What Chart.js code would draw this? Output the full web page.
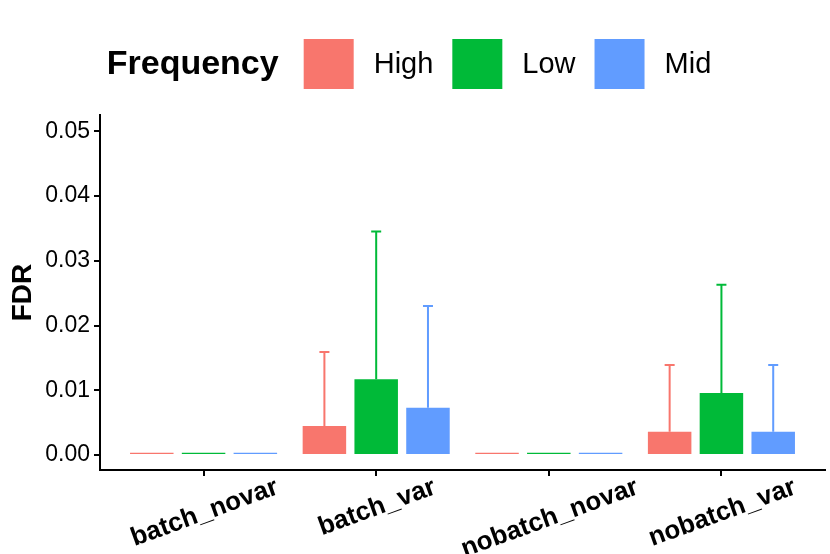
<!DOCTYPE html>
<html>
<head>
<meta charset="utf-8">
<script src="https://cdn.jsdelivr.net/npm/chart.js@4"></script>
<style>
  html, body { margin: 0; padding: 0; background: #fff; }
  #wrap { width: 830px; height: 554px; }
</style>
</head>
<body>
<div id="wrap"><canvas id="chart"></canvas></div>
<script>
// data
const categories = ['batch_novar', 'batch_var', 'nobatch_novar', 'nobatch_var'];
const highFdr = [0.00035, 0.0045, 0.00035, 0.0036];
const lowFdr = [0.00035, 0.0117, 0.00035, 0.0096];
const midFdr = [0.00035, 0.0073, 0.00035, 0.0036];
// upper end of the error bars (null = none visible)
const highUpper = [null, 0.0159, null, 0.0139];
const lowUpper = [null, 0.0345, null, 0.0263];
const midUpper = [null, 0.0230, null, 0.0139];
const yTicks = [0, 0.01, 0.02, 0.03, 0.04, 0.05];
const legendTitle = 'Frequency';

const FONT = "'Liberation Sans', Arial, sans-serif";

const toPoints = vals => vals.map((v, i) => ({ x: i + 1, y: v }));

// error bars drawn on top of the bars through the chart scales
const errorBars = {
  id: 'errorBars',
  afterDatasetsDraw(chart) {
    const ctx = chart.ctx;
    const y = chart.scales.y;
    chart.data.datasets.forEach((ds, di) => {
      const meta = chart.getDatasetMeta(di);
      ctx.save();
      ctx.strokeStyle = ds.backgroundColor;
      ctx.lineWidth = 2;
      meta.data.forEach((bar, i) => {
        const up = ds.upper[i];
        if (up == null) return;
        const top = y.getPixelForValue(up);
        ctx.beginPath();
        ctx.moveTo(bar.x, bar.y);
        ctx.lineTo(bar.x, top);
        ctx.moveTo(bar.x - 5, top);
        ctx.lineTo(bar.x + 5, top);
        ctx.stroke();
      });
      ctx.restore();
    });
  }
};

// rotated, centred category labels (ggplot style)
const xLabels = {
  id: 'xLabels',
  afterDraw(chart) {
    const ctx = chart.ctx;
    const x = chart.scales.x;
    const ang = 20 * Math.PI / 180;
    ctx.save();
    ctx.font = `bold 26px ${FONT}`;
    ctx.fillStyle = '#000';
    ctx.textAlign = 'center';
    ctx.textBaseline = 'middle';
    categories.forEach((c, i) => {
      const px = x.getPixelForValue(i + 1);
      const w = ctx.measureText(c).width;
      const bbh = w * Math.sin(ang) + 18 * Math.cos(ang);
      const cy = chart.chartArea.bottom + 8 + bbh / 2;
      ctx.save();
      ctx.translate(px + 1, cy);
      ctx.rotate(-ang);
      ctx.fillText(c, 0, 0);
      ctx.restore();
    });
    ctx.restore();
  }
};

// legend in one row: bold title followed by the keys
const inlineLegend = {
  id: 'inlineLegend',
  afterDraw(chart) {
    const ctx = chart.ctx;
    const key = 50, cy = 64;
    ctx.save();
    ctx.textBaseline = 'middle';
    ctx.font = `bold 34px ${FONT}`;
    const titleW = ctx.measureText(legendTitle).width;
    ctx.font = `29px ${FONT}`;
    const items = chart.data.datasets.map(ds => ({
      label: ds.label, color: ds.backgroundColor, w: ctx.measureText(ds.label).width
    }));
    let total = titleW + 25;
    items.forEach((it, i) => { total += key + 20 + it.w + (i < items.length - 1 ? 19 : 0); });
    let xPos = (chart.width - total) / 2 - 6;
    ctx.fillStyle = '#000';
    ctx.font = `bold 34px ${FONT}`;
    ctx.fillText(legendTitle, xPos, cy + 1);
    xPos += titleW + 25;
    ctx.font = `29px ${FONT}`;
    items.forEach(it => {
      ctx.fillStyle = it.color;
      ctx.fillRect(xPos, cy - key / 2, key, key);
      xPos += key + 20;
      ctx.fillStyle = '#000';
      ctx.fillText(it.label, xPos, cy + 1);
      xPos += it.w + 19;
    });
    ctx.restore();
  }
};

const barOpts = { categoryPercentage: 0.9, barPercentage: 0.84, borderWidth: 0 };

new Chart(document.getElementById('chart'), {
  type: 'bar',
  data: {
    datasets: [
      { label: 'High', data: toPoints(highFdr), upper: highUpper, backgroundColor: '#F8766D', ...barOpts },
      { label: 'Low', data: toPoints(lowFdr), upper: lowUpper, backgroundColor: '#00BA38', ...barOpts },
      { label: 'Mid', data: toPoints(midFdr), upper: midUpper, backgroundColor: '#619CFF', ...barOpts },
    ],
  },
  options: {
    responsive: true,
    maintainAspectRatio: false,
    animation: false,
    layout: { padding: { top: 115, right: 5, left: 0, bottom: 0 } },
    plugins: {
      legend: { display: false },
      tooltip: { enabled: false },
    },
    scales: {
      x: {
        type: 'linear',
        min: 0.4,
        max: 4.6,
        offset: false,
        afterBuildTicks: axis => { axis.ticks = categories.map((c, i) => ({ value: i + 1 })); },
        afterFit: axis => { axis.height = 84; },
        ticks: { display: false },
        grid: { drawOnChartArea: false, drawTicks: true, tickLength: 6, color: '#000', lineWidth: 2, offset: false },
        border: { display: true, color: '#000', width: 2 },
      },
      y: {
        min: -0.0023,
        max: 0.0525,
        afterBuildTicks: axis => { axis.ticks = yTicks.map(v => ({ value: v })); },
        afterFit: axis => { axis.width = 100; },
        ticks: {
          callback: v => v.toFixed(2),
          color: '#000',
          padding: 4,
          font: { family: FONT, size: 23 },
        },
        grid: { drawOnChartArea: false, drawTicks: true, tickLength: 6, color: '#000', lineWidth: 2 },
        border: { display: true, color: '#000', width: 2 },
        title: {
          display: true,
          text: 'FDR',
          color: '#000',
          padding: { top: 6, bottom: 0 },
          font: { family: FONT, size: 28, weight: 'bold' },
        },
      },
    },
  },
  plugins: [errorBars, xLabels, inlineLegend],
});
</script>
</body>
</html>
